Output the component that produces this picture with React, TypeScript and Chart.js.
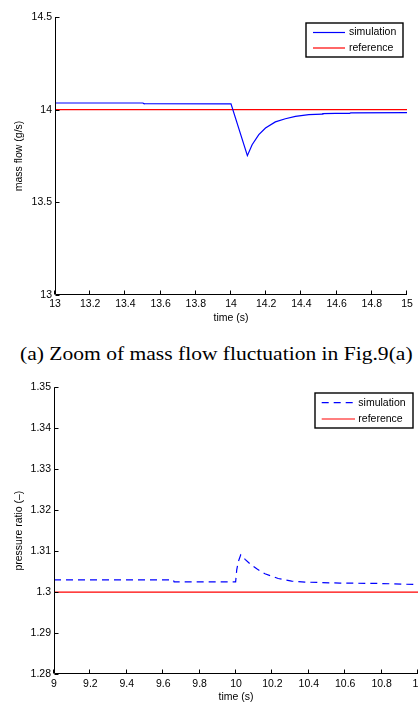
import React, { useEffect, useRef } from 'react';
import { Chart, registerables } from 'chart.js';

Chart.register(...registerables);

const SANS = '"Liberation Sans", Arial, Helvetica, sans-serif';
const FONT_SIZE = 10.5;

// ---------- Chart (a): mass flow ----------
const FLOW_T = [13.0, 13.5, 13.505, 14.0, 14.093, 14.12, 14.158, 14.196, 14.252, 14.309, 14.366, 14.442, 14.518, 14.522, 14.594, 14.675, 14.68, 15.0];
const FLOW_SIM = [14.036, 14.036, 14.032, 14.031, 13.752, 13.811, 13.865, 13.901, 13.934, 13.951, 13.964, 13.973, 13.976, 13.979, 13.980, 13.980, 13.983, 13.984];
const FLOW_REF_T = [13, 15];
const FLOW_REF = [14, 14];
const FLOW_X_TICKS = [13, 13.2, 13.4, 13.6, 13.8, 14, 14.2, 14.4, 14.6, 14.8, 15];
const FLOW_X_LABELS = ['13', '13.2', '13.4', '13.6', '13.8', '14', '14.2', '14.4', '14.6', '14.8', '15'];
const FLOW_Y_TICKS = [13, 13.5, 14, 14.5];
const FLOW_Y_LABELS = ['13', '13.5', '14', '14.5'];

// ---------- Chart (b): pressure ratio ----------
const PR_T = [9.0, 9.655, 9.66, 9.998, 10.004, 10.013, 10.026, 10.05, 10.077, 10.114, 10.159, 10.232, 10.306, 10.379, 10.571, 10.791, 11.0];
const PR_SIM = [1.303, 1.303, 1.3025, 1.3025, 1.30544, 1.30746, 1.3091, 1.308, 1.3069, 1.30568, 1.30446, 1.30332, 1.30268, 1.30244, 1.3022, 1.3021, 1.30183];
const PR_REF_T = [9, 11];
const PR_REF = [1.3, 1.3];
const PR_X_TICKS = [9, 9.2, 9.4, 9.6, 9.8, 10, 10.2, 10.4, 10.6, 10.8, 11];
const PR_X_LABELS = ['9', '9.2', '9.4', '9.6', '9.8', '10', '10.2', '10.4', '10.6', '10.8', '11'];
const PR_Y_TICKS = [1.28, 1.29, 1.3, 1.31, 1.32, 1.33, 1.34, 1.35];
const PR_Y_LABELS = ['1.28', '1.29', '1.3', '1.31', '1.32', '1.33', '1.34', '1.35'];

const SERIES_LABELS = ['simulation', 'reference'];
const CAPTION = '(a) Zoom of mass flow fluctuation in Fig.9(a)';

type LegendCfg = { right: number; top: number; width: number; height: number; rows: number[]; lineX0: number; lineX1: number; textX: number };

function makeAxesPlugin(lg: LegendCfg) {
  return {
    id: 'matlabAxes',
    afterDraw(chart: any) {
      const { ctx, chartArea: a, scales } = chart;
      ctx.save();
      ctx.strokeStyle = '#000';
      ctx.lineWidth = 1;
      const L = Math.round(a.left) + 0.5;
      const B = Math.round(a.bottom) - 0.5;
      ctx.beginPath();
      ctx.moveTo(L, a.top);
      ctx.lineTo(L, B);
      ctx.lineTo(a.right, B);
      ctx.stroke();
      const xs = scales.x;
      const ys = scales.y;
      ctx.beginPath();
      xs.ticks.forEach((_t: any, i: number) => {
        const p = Math.round(xs.getPixelForTick(i)) - 0.5;
        ctx.moveTo(p, B);
        ctx.lineTo(p, B - 4);
      });
      ys.ticks.forEach((_t: any, i: number) => {
        const p = Math.round(ys.getPixelForTick(i)) + 0.5;
        ctx.moveTo(L, p);
        ctx.lineTo(L + 4, p);
      });
      ctx.stroke();

      // legend
      const bx = a.right - lg.right - lg.width;
      const by = a.top + lg.top;
      ctx.fillStyle = '#fff';
      ctx.fillRect(bx, by, lg.width, lg.height);
      ctx.lineWidth = 1.4;
      ctx.strokeStyle = '#000';
      ctx.strokeRect(bx, by, lg.width, lg.height);
      chart.data.datasets.forEach((ds: any, i: number) => {
        const y = by + lg.rows[i];
        ctx.setLineDash(ds.borderDash || []);
        ctx.strokeStyle = ds.borderColor;
        ctx.lineWidth = ds.borderWidth;
        ctx.beginPath();
        ctx.moveTo(bx + lg.lineX0, y);
        ctx.lineTo(bx + lg.lineX1, y);
        ctx.stroke();
        ctx.setLineDash([]);
        ctx.fillStyle = '#000';
        ctx.font = `${FONT_SIZE}px ${SANS}`;
        ctx.textBaseline = 'middle';
        ctx.textAlign = 'left';
        ctx.fillText(ds.label, bx + lg.textX, y);
      });
      ctx.restore();
    },
  };
}

type Cfg = {
  simT: number[]; sim: number[]; refT: number[]; ref: number[];
  xTicks: number[]; xLabels: string[]; yTicks: number[]; yLabels: string[];
  yTitle: string; dashed: boolean;
  padding: { left: number; right: number; top: number; bottom: number };
  yWidth: number; xHeight: number; xPad: number; titleBottom: number;
  legend: LegendCfg;
};

function buildChart(canvas: HTMLCanvasElement, c: Cfg) {
  const font = { family: SANS, size: FONT_SIZE };
  return new Chart(canvas, {
    type: 'line',
    data: {
      datasets: [
        {
          label: SERIES_LABELS[0],
          data: c.simT.map((t, i) => ({ x: t, y: c.sim[i] })),
          borderColor: '#0000ff',
          borderWidth: 1.2,
          borderDash: c.dashed ? [7, 5] : [],
          pointRadius: 0,
          tension: 0,
          fill: false,
        },
        {
          label: SERIES_LABELS[1],
          data: c.refT.map((t, i) => ({ x: t, y: c.ref[i] })),
          borderColor: '#ff0000',
          borderWidth: 1.2,
          pointRadius: 0,
          tension: 0,
          fill: false,
        },
      ],
    },
    options: {
      responsive: false,
      maintainAspectRatio: false,
      animation: false,
      devicePixelRatio: 1,
      layout: { autoPadding: false, padding: c.padding } as any,
      plugins: { legend: { display: false }, tooltip: { enabled: false }, title: { display: false } },
      scales: {
        x: {
          type: 'linear',
          min: c.xTicks[0],
          max: c.xTicks[c.xTicks.length - 1],
          grid: { display: false, drawTicks: false },
          border: { display: false },
          afterBuildTicks: (s: any) => { s.ticks = c.xTicks.map((v) => ({ value: v })); },
          afterFit: (s: any) => { s.height = c.xHeight; },
          ticks: {
            autoSkip: false, maxRotation: 0, minRotation: 0, padding: c.xPad, color: '#000', font,
            callback: (_v: any, i: number) => c.xLabels[i],
          },
          title: { display: true, text: 'time (s)', color: '#000', font, padding: { top: 0, bottom: c.titleBottom } },
        },
        y: {
          type: 'linear',
          min: c.yTicks[0],
          max: c.yTicks[c.yTicks.length - 1],
          grid: { display: false, drawTicks: false },
          border: { display: false },
          afterBuildTicks: (s: any) => { s.ticks = c.yTicks.map((v) => ({ value: v })); },
          afterFit: (s: any) => { s.width = c.yWidth; },
          ticks: {
            autoSkip: false, padding: 3, color: '#000', font,
            callback: (_v: any, i: number) => c.yLabels[i],
          },
          title: { display: true, text: c.yTitle, color: '#000', font, padding: { top: 12.7, bottom: 0 } },
        },
      },
    } as any,
    plugins: [makeAxesPlugin(c.legend)],
  });
}

export default function App() {
  const topRef = useRef<HTMLCanvasElement>(null);
  const botRef = useRef<HTMLCanvasElement>(null);

  useEffect(() => {
    const a = buildChart(topRef.current!, {
      simT: FLOW_T, sim: FLOW_SIM, refT: FLOW_REF_T, ref: FLOW_REF,
      xTicks: FLOW_X_TICKS, xLabels: FLOW_X_LABELS, yTicks: FLOW_Y_TICKS, yLabels: FLOW_Y_LABELS,
      yTitle: 'mass flow (g/s)', dashed: false,
      padding: { left: 0, right: 11, top: 17, bottom: 0 },
      yWidth: 55, xHeight: 29, xPad: 3, titleBottom: 0,
      legend: { right: 4, top: 6, width: 97, height: 34, rows: [9.5, 25], lineX0: 7, lineX1: 39, textX: 43 },
    });
    const b = buildChart(botRef.current!, {
      simT: PR_T, sim: PR_SIM, refT: PR_REF_T, ref: PR_REF,
      xTicks: PR_X_TICKS, xLabels: PR_X_LABELS, yTicks: PR_Y_TICKS, yLabels: PR_Y_LABELS,
      yTitle: 'pressure ratio (\u2013)', dashed: true,
      padding: { left: 0, right: 22, top: 17.3, bottom: 0 },
      yWidth: 54, xHeight: 29, xPad: 4, titleBottom: 0,
      legend: { right: 5, top: 5.7, width: 98, height: 35, rows: [9.7, 26], lineX0: 6.7, lineX1: 40, textX: 43.3 },
    });
    return () => { a.destroy(); b.destroy(); };
  }, []);

  return (
    <div style={{ position: 'fixed', left: 0, top: 0, width: 418, height: 705, overflow: 'hidden', background: '#fff' }}>
      <canvas ref={topRef} width={418} height={324} style={{ position: 'absolute', left: 0, top: 0, width: 418, height: 324 }} />
      <div
        style={{
          position: 'absolute', left: 20, top: 343.7, whiteSpace: 'nowrap',
          fontFamily: '"Liberation Serif", "Times New Roman", serif', fontSize: 19.5, lineHeight: '19.5px',
          color: '#000', transform: 'scaleX(1.105)', transformOrigin: 'left top',
        }}
      >
        {CAPTION}
      </div>
      <canvas ref={botRef} width={440} height={333} style={{ position: 'absolute', left: 0, top: 370, width: 440, height: 333 }} />
    </div>
  );
}
